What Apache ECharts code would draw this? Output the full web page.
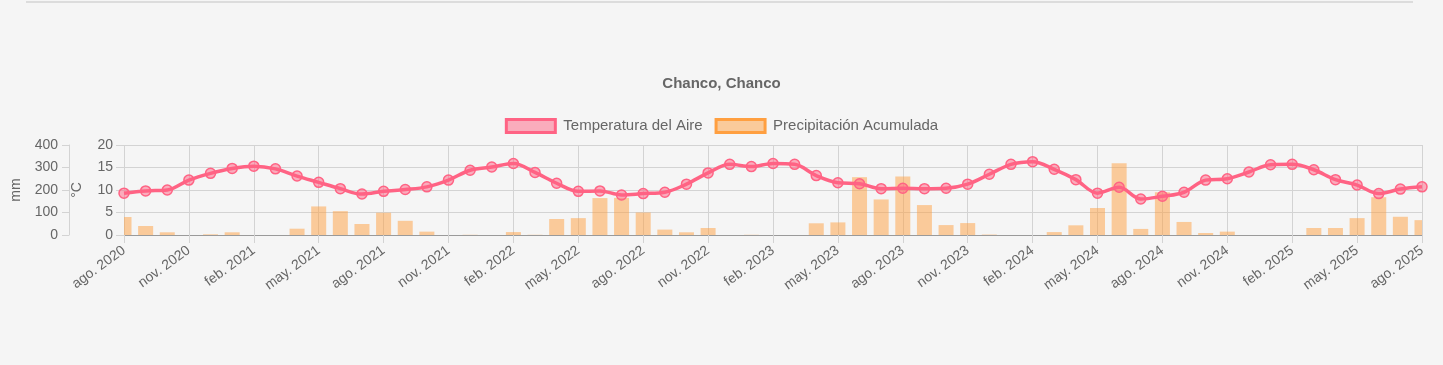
<!DOCTYPE html>
<html>
<head>
<meta charset="utf-8">
<script src="https://cdn.jsdelivr.net/npm/echarts@6/dist/echarts.min.js"></script>
<style>
html,body{margin:0;padding:0;background:#f5f5f5;}
#chart{width:1443px;height:365px;}
</style>
</head>
<body>
<div id="chart"></div>
<script>
const categories = [
 "ago. 2020","sept. 2020","oct. 2020","nov. 2020","dic. 2020",
 "ene. 2021","feb. 2021","mar. 2021","abr. 2021","may. 2021","jun. 2021","jul. 2021","ago. 2021","sept. 2021","oct. 2021","nov. 2021","dic. 2021",
 "ene. 2022","feb. 2022","mar. 2022","abr. 2022","may. 2022","jun. 2022","jul. 2022","ago. 2022","sept. 2022","oct. 2022","nov. 2022","dic. 2022",
 "ene. 2023","feb. 2023","mar. 2023","abr. 2023","may. 2023","jun. 2023","jul. 2023","ago. 2023","sept. 2023","oct. 2023","nov. 2023","dic. 2023",
 "ene. 2024","feb. 2024","mar. 2024","abr. 2024","may. 2024","jun. 2024","jul. 2024","ago. 2024","sept. 2024","oct. 2024","nov. 2024","dic. 2024",
 "ene. 2025","feb. 2025","mar. 2025","abr. 2025","may. 2025","jun. 2025","jul. 2025","ago. 2025"
];
const temperatura = [
 9.3, 9.8, 10.0, 12.2, 13.7,
 14.8, 15.3, 14.7, 13.1, 11.7, 10.3, 9.1, 9.7, 10.1, 10.7, 12.2, 14.4,
 15.1, 15.9, 13.9, 11.5, 9.7, 9.8, 8.9, 9.2, 9.5, 11.3, 13.8, 15.7,
 15.2, 15.9, 15.7, 13.2, 11.6, 11.4, 10.3, 10.4, 10.3, 10.4, 11.3, 13.5,
 15.7, 16.3, 14.6, 12.3, 9.3, 10.6, 8.0, 8.6, 9.5, 12.2, 12.5, 14.0,
 15.6, 15.7, 14.5, 12.3, 11.1, 9.2, 10.2, 10.7
];
const precipitacion = [
 80, 40, 12, 0, 3,
 12, 0, 0, 28, 127, 106, 49, 99, 63, 15, 0, 1,
 0, 13, 1, 71, 75, 164, 165, 100, 24, 12, 31, 0,
 1, 0, 0, 52, 56, 257, 158, 260, 133, 44, 53, 2,
 0, 0, 13, 43, 120, 319, 27, 190, 58, 9, 15, 0,
 0, 0, 31, 31, 75, 168, 81, 66
];
const titleText = "Chanco, Chanco";
const tempName = "Temperatura del Aire";
const precName = "Precipitación Acumulada";

const FONT = "'Liberation Sans', Arial, Helvetica, sans-serif";
const GRID = "#d3d3d3";
const TXT = "#666";
const BAR_FILL = 'rgba(255,159,64,0.5)';
const BAR_W = 15;

const chart = echarts.init(document.getElementById('chart'), null, {renderer: 'canvas'});
chart.setOption({
  backgroundColor: '#f5f5f5',
  animation: false,
  textStyle: {fontFamily: FONT},
  graphic: [{
    type: 'line', shape: {x1: 26, y1: 2, x2: 1413, y2: 2},
    style: {stroke: '#dcdcdc', lineWidth: 2}
  }],
  title: {
    text: titleText, left: 'center', top: 71,
    textStyle: {fontFamily: FONT, fontSize: 15, fontWeight: 'bold', color: TXT}
  },
  legend: {
    top: 113, left: 'center', icon: 'rect', itemWidth: 49, itemHeight: 13, itemGap: 12,
    textStyle: {fontFamily: FONT, fontSize: 15, color: TXT, padding: [0, 0, 0, 3]},
    data: [
      {name: tempName, itemStyle: {color: 'rgba(255,99,132,0.5)', borderColor: 'rgb(255,99,132)', borderWidth: 3}},
      {name: precName, itemStyle: {color: BAR_FILL, borderColor: 'rgb(255,159,64)', borderWidth: 3}}
    ]
  },
  grid: {left: 124, right: 21, top: 145, bottom: 130, containLabel: false},
  xAxis: {
    type: 'category', data: categories, boundaryGap: false,
    axisLine: {show: true, lineStyle: {color: '#9a9a9a'}},
    axisTick: {show: true, interval: 2, length: 8, lineStyle: {color: GRID}},
    axisLabel: {interval: 2, rotate: 36, color: TXT, fontSize: 14, fontFamily: FONT, margin: 14},
    splitLine: {show: true, interval: 2, lineStyle: {color: GRID}}
  },
  yAxis: [
    {
      type: 'value', position: 'left', offset: 55, min: 0, max: 400, interval: 100,
      name: 'mm', nameLocation: 'middle', nameRotate: 90, nameGap: 46,
      nameTextStyle: {color: TXT, fontSize: 14, fontFamily: FONT},
      axisLine: {show: true, lineStyle: {color: GRID}},
      axisTick: {show: true, length: 7, lineStyle: {color: GRID}},
      axisLabel: {color: TXT, fontSize: 14, fontFamily: FONT, margin: 11},
      splitLine: {show: false}
    },
    {
      type: 'value', position: 'left', offset: 0, min: 0, max: 20, interval: 5,
      name: '°C', nameLocation: 'middle', nameRotate: 90, nameGap: 40,
      nameTextStyle: {color: TXT, fontSize: 14, fontFamily: FONT},
      axisLine: {show: false},
      axisTick: {show: true, length: 8, lineStyle: {color: GRID}},
      axisLabel: {color: TXT, fontSize: 14, fontFamily: FONT, margin: 11},
      splitLine: {show: true, lineStyle: {color: GRID}}
    }
  ],
  series: [
    {
      name: precName, type: 'custom', yAxisIndex: 0, z: 2,
      data: precipitacion.map((v, i) => [i, v]),
      encode: {x: 0, y: 1},
      itemStyle: {color: BAR_FILL},
      renderItem: function (params, api) {
        const i = api.value(0), v = api.value(1);
        const top = api.coord([i, v]);
        const base = api.coord([i, 0]);
        const cs = params.coordSys;
        const shape = echarts.graphic.clipRectByRect(
          {x: top[0] - BAR_W / 2, y: top[1], width: BAR_W, height: base[1] - top[1]},
          {x: cs.x, y: cs.y, width: cs.width, height: cs.height}
        );
        return shape && {type: 'rect', shape: shape, style: {fill: BAR_FILL}};
      }
    },
    {
      name: tempName, type: 'line', yAxisIndex: 1, data: temperatura,
      smooth: 0.35, symbol: 'circle', symbolSize: 10, z: 3,
      lineStyle: {color: 'rgb(255,99,132)', width: 3.5},
      itemStyle: {color: 'rgba(255,99,132,0.5)', borderColor: 'rgb(255,99,132)', borderWidth: 1.5}
    }
  ]
});
</script>
</body>
</html>
